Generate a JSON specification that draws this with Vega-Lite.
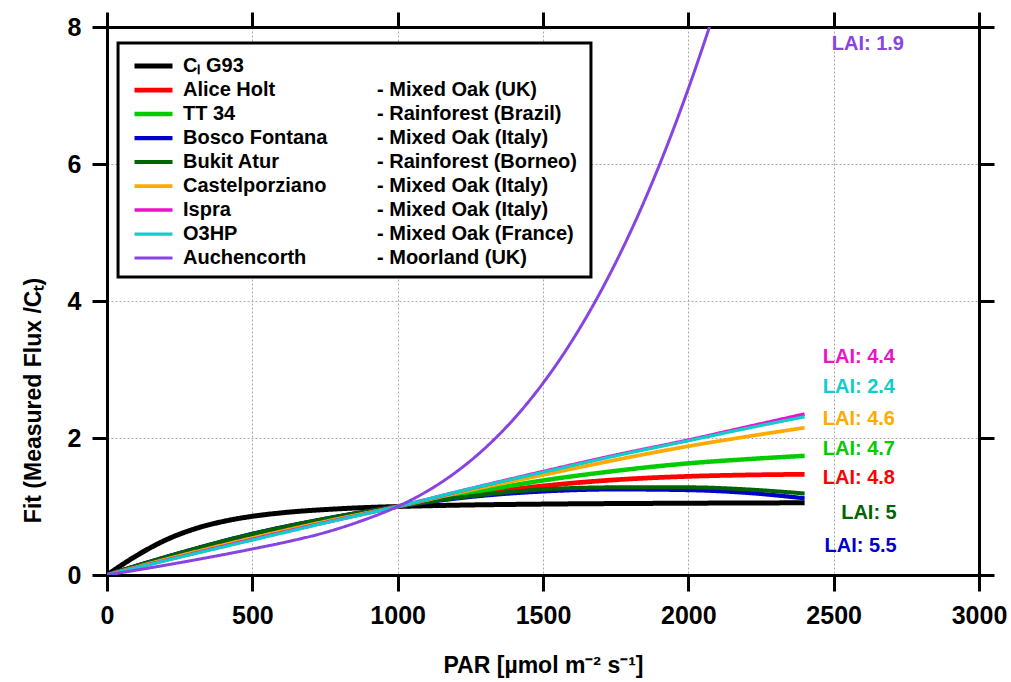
{
  "$schema": "https://vega.github.io/schema/vega-lite/v6.json",
  "width": 872,
  "height": 548,
  "autosize": {"type": "none"},
  "padding": {"left": 107, "top": 27, "right": 32, "bottom": 107},
  "background": "white",
  "config": {"view": {"stroke": null}, "font": "Liberation Sans"},
  "datasets": {
    "sites": [
      {"name": "Cₗ G93", "desc": "0|"},
      {"name": "Alice Holt", "desc": "1|- Mixed Oak (UK)"},
      {"name": "TT 34", "desc": "2|- Rainforest (Brazil)"},
      {"name": "Bosco Fontana", "desc": "3|- Mixed Oak (Italy)"},
      {"name": "Bukit Atur", "desc": "4|- Rainforest (Borneo)"},
      {"name": "Castelporziano", "desc": "5|- Mixed Oak (Italy)"},
      {"name": "Ispra", "desc": "6|- Mixed Oak (Italy)"},
      {"name": "O3HP", "desc": "7|- Mixed Oak (France)"},
      {"name": "Auchencorth", "desc": "8|- Moorland (UK)"}
    ],
    "curves": [
      {"name": "Cₗ G93", "par": 0, "fit": 0},
      {"name": "Cₗ G93", "par": 100, "fit": 0.278},
      {"name": "Cₗ G93", "par": 200, "fit": 0.507},
      {"name": "Cₗ G93", "par": 300, "fit": 0.671},
      {"name": "Cₗ G93", "par": 400, "fit": 0.782},
      {"name": "Cₗ G93", "par": 500, "fit": 0.857},
      {"name": "Cₗ G93", "par": 600, "fit": 0.907},
      {"name": "Cₗ G93", "par": 800, "fit": 0.967},
      {"name": "Cₗ G93", "par": 1000, "fit": 1.0},
      {"name": "Cₗ G93", "par": 1200, "fit": 1.019},
      {"name": "Cₗ G93", "par": 1500, "fit": 1.035},
      {"name": "Cₗ G93", "par": 2000, "fit": 1.048},
      {"name": "Cₗ G93", "par": 2400, "fit": 1.054},

      {"name": "Alice Holt", "par": 0, "fit": 0},
      {"name": "Alice Holt", "par": 250, "fit": 0.31},
      {"name": "Alice Holt", "par": 500, "fit": 0.59},
      {"name": "Alice Holt", "par": 750, "fit": 0.81},
      {"name": "Alice Holt", "par": 1000, "fit": 1.0},
      {"name": "Alice Holt", "par": 1250, "fit": 1.17},
      {"name": "Alice Holt", "par": 1500, "fit": 1.30},
      {"name": "Alice Holt", "par": 1750, "fit": 1.39},
      {"name": "Alice Holt", "par": 2000, "fit": 1.44},
      {"name": "Alice Holt", "par": 2200, "fit": 1.46},
      {"name": "Alice Holt", "par": 2400, "fit": 1.47},

      {"name": "TT 34", "par": 0, "fit": 0},
      {"name": "TT 34", "par": 250, "fit": 0.30},
      {"name": "TT 34", "par": 500, "fit": 0.58},
      {"name": "TT 34", "par": 750, "fit": 0.80},
      {"name": "TT 34", "par": 1000, "fit": 1.0},
      {"name": "TT 34", "par": 1250, "fit": 1.20},
      {"name": "TT 34", "par": 1500, "fit": 1.38},
      {"name": "TT 34", "par": 1750, "fit": 1.52},
      {"name": "TT 34", "par": 2000, "fit": 1.63},
      {"name": "TT 34", "par": 2200, "fit": 1.69},
      {"name": "TT 34", "par": 2400, "fit": 1.74},

      {"name": "Bosco Fontana", "par": 0, "fit": 0},
      {"name": "Bosco Fontana", "par": 250, "fit": 0.32},
      {"name": "Bosco Fontana", "par": 500, "fit": 0.60},
      {"name": "Bosco Fontana", "par": 750, "fit": 0.82},
      {"name": "Bosco Fontana", "par": 1000, "fit": 1.0},
      {"name": "Bosco Fontana", "par": 1250, "fit": 1.14},
      {"name": "Bosco Fontana", "par": 1500, "fit": 1.22},
      {"name": "Bosco Fontana", "par": 1750, "fit": 1.25},
      {"name": "Bosco Fontana", "par": 2000, "fit": 1.24},
      {"name": "Bosco Fontana", "par": 2200, "fit": 1.20},
      {"name": "Bosco Fontana", "par": 2400, "fit": 1.12},

      {"name": "Bukit Atur", "par": 0, "fit": 0},
      {"name": "Bukit Atur", "par": 250, "fit": 0.32},
      {"name": "Bukit Atur", "par": 500, "fit": 0.60},
      {"name": "Bukit Atur", "par": 750, "fit": 0.82},
      {"name": "Bukit Atur", "par": 1000, "fit": 1.0},
      {"name": "Bukit Atur", "par": 1250, "fit": 1.15},
      {"name": "Bukit Atur", "par": 1500, "fit": 1.25},
      {"name": "Bukit Atur", "par": 1750, "fit": 1.28},
      {"name": "Bukit Atur", "par": 2000, "fit": 1.28},
      {"name": "Bukit Atur", "par": 2200, "fit": 1.25},
      {"name": "Bukit Atur", "par": 2400, "fit": 1.19},

      {"name": "Castelporziano", "par": 0, "fit": 0},
      {"name": "Castelporziano", "par": 250, "fit": 0.28},
      {"name": "Castelporziano", "par": 500, "fit": 0.54},
      {"name": "Castelporziano", "par": 750, "fit": 0.78},
      {"name": "Castelporziano", "par": 1000, "fit": 1.0},
      {"name": "Castelporziano", "par": 1250, "fit": 1.24},
      {"name": "Castelporziano", "par": 1500, "fit": 1.46},
      {"name": "Castelporziano", "par": 1750, "fit": 1.68},
      {"name": "Castelporziano", "par": 2000, "fit": 1.88},
      {"name": "Castelporziano", "par": 2200, "fit": 2.02},
      {"name": "Castelporziano", "par": 2400, "fit": 2.15},

      {"name": "Ispra", "par": 0, "fit": 0},
      {"name": "Ispra", "par": 250, "fit": 0.265},
      {"name": "Ispra", "par": 500, "fit": 0.52},
      {"name": "Ispra", "par": 750, "fit": 0.765},
      {"name": "Ispra", "par": 1000, "fit": 1.0},
      {"name": "Ispra", "par": 1250, "fit": 1.26},
      {"name": "Ispra", "par": 1500, "fit": 1.51},
      {"name": "Ispra", "par": 1750, "fit": 1.75},
      {"name": "Ispra", "par": 2000, "fit": 1.97},
      {"name": "Ispra", "par": 2200, "fit": 2.16},
      {"name": "Ispra", "par": 2400, "fit": 2.35},

      {"name": "O3HP", "par": 0, "fit": 0},
      {"name": "O3HP", "par": 250, "fit": 0.26},
      {"name": "O3HP", "par": 500, "fit": 0.51},
      {"name": "O3HP", "par": 750, "fit": 0.76},
      {"name": "O3HP", "par": 1000, "fit": 1.0},
      {"name": "O3HP", "par": 1250, "fit": 1.26},
      {"name": "O3HP", "par": 1500, "fit": 1.50},
      {"name": "O3HP", "par": 1750, "fit": 1.74},
      {"name": "O3HP", "par": 2000, "fit": 1.96},
      {"name": "O3HP", "par": 2200, "fit": 2.14},
      {"name": "O3HP", "par": 2400, "fit": 2.31},

      {"name": "Auchencorth", "par": 0, "fit": 0},
      {"name": "Auchencorth", "par": 250, "fit": 0.18},
      {"name": "Auchencorth", "par": 500, "fit": 0.38},
      {"name": "Auchencorth", "par": 625, "fit": 0.49},
      {"name": "Auchencorth", "par": 750, "fit": 0.62},
      {"name": "Auchencorth", "par": 875, "fit": 0.79},
      {"name": "Auchencorth", "par": 1000, "fit": 1.0},
      {"name": "Auchencorth", "par": 1100, "fit": 1.22},
      {"name": "Auchencorth", "par": 1200, "fit": 1.5},
      {"name": "Auchencorth", "par": 1300, "fit": 1.85},
      {"name": "Auchencorth", "par": 1400, "fit": 2.28},
      {"name": "Auchencorth", "par": 1500, "fit": 2.8},
      {"name": "Auchencorth", "par": 1600, "fit": 3.42},
      {"name": "Auchencorth", "par": 1700, "fit": 4.15},
      {"name": "Auchencorth", "par": 1800, "fit": 5.0},
      {"name": "Auchencorth", "par": 1900, "fit": 5.98},
      {"name": "Auchencorth", "par": 2000, "fit": 7.1},
      {"name": "Auchencorth", "par": 2100, "fit": 8.35}
    ],
    "labels": [
      {"name": "Ispra", "label": "LAI: 4.4", "par": 2711, "fit": 3.18},
      {"name": "O3HP", "label": "LAI: 2.4", "par": 2711, "fit": 2.74},
      {"name": "Castelporziano", "label": "LAI: 4.6", "par": 2711, "fit": 2.28},
      {"name": "TT 34", "label": "LAI: 4.7", "par": 2711, "fit": 1.84},
      {"name": "Alice Holt", "label": "LAI: 4.8", "par": 2711, "fit": 1.41},
      {"name": "Bukit Atur", "label": "LAI: 5", "par": 2717, "fit": 0.90},
      {"name": "Bosco Fontana", "label": "LAI: 5.5", "par": 2717, "fit": 0.42},
      {"name": "Auchencorth", "label": "LAI: 1.9", "par": 2742, "fit": 7.75}
    ]
  },
  "resolve": {"axis": {"x": "independent", "y": "independent"}},
  "layer": [
    {
      "data": {"values": [{}]},
      "mark": {"type": "rect", "fill": "white", "stroke": "black", "strokeWidth": 3},
      "encoding": {
        "x": {"datum": 38, "type": "quantitative",
          "axis": {"orient": "top", "values": [0, 500, 1000, 1500, 2000, 2500, 3000], "labels": false, "title": null, "grid": false,
            "domainColor": "black", "domainWidth": 3, "tickColor": "black", "tickWidth": 3, "tickSize": 15}},
        "x2": {"datum": 1665},
        "y": {"datum": 7.766, "type": "quantitative",
          "axis": {"orient": "right", "values": [0, 2, 4, 6, 8], "labels": false, "title": null, "grid": false,
            "domainColor": "black", "domainWidth": 3, "tickColor": "black", "tickWidth": 3, "tickSize": 15}},
        "y2": {"datum": 4.35}
      }
    },
    {
      "data": {"name": "curves"},
      "transform": [
        {"lookup": "name", "from": {"data": {"name": "sites"}, "key": "name", "fields": ["desc"]}}
      ],
      "mark": {"type": "line", "interpolate": "monotone", "clip": true},
      "encoding": {
        "x": {"field": "par", "type": "quantitative",
          "scale": {"domain": [0, 3000], "nice": false, "zero": false},
          "axis": {"orient": "bottom", "values": [0, 500, 1000, 1500, 2000, 2500, 3000], "format": "d",
            "title": "PAR [µmol m⁻² s⁻¹]",
            "grid": true, "gridDash": [2, 2], "gridColor": "#a8a8a8", "gridWidth": 1,
            "domainColor": "black", "domainWidth": 3, "tickColor": "black", "tickWidth": 3, "tickSize": 16,
            "labelFont": "Liberation Sans", "labelFontWeight": "bold", "labelFontSize": 25, "labelColor": "black",
            "labelPadding": 12, "labelFlush": false, "labelOverlap": false,
            "titleFont": "Liberation Sans", "titleFontWeight": "bold", "titleFontSize": 23, "titleColor": "black",
            "titleY": 97, "titleBaseline": "alphabetic"}},
        "y": {"field": "fit", "type": "quantitative",
          "scale": {"domain": [0, 8], "nice": false},
          "axis": {"orient": "left", "values": [0, 2, 4, 6, 8],
            "title": "Fit (Measured Flux /Cₜ)",
            "grid": true, "gridDash": [2, 2], "gridColor": "#a8a8a8", "gridWidth": 1,
            "domainColor": "black", "domainWidth": 3, "tickColor": "black", "tickWidth": 3, "tickSize": 15,
            "labelFont": "Liberation Sans", "labelFontWeight": "bold", "labelFontSize": 25, "labelColor": "black",
            "labelPadding": 11, "labelFlush": false, "labelOverlap": false,
            "titleFont": "Liberation Sans", "titleFontWeight": "bold", "titleFontSize": 23, "titleColor": "black",
            "titleX": -67, "titleY": 373, "titleAngle": -90, "titleAlign": "center", "titleBaseline": "alphabetic"}},
        "color": {"field": "name", "type": "nominal",
          "scale": {"domain": ["Cₗ G93", "Alice Holt", "TT 34", "Bosco Fontana", "Bukit Atur", "Castelporziano", "Ispra", "O3HP", "Auchencorth"],
            "range": ["#000000", "#ff0000", "#00cc00", "#0000cc", "#006400", "#ffaa00", "#ee11cc", "#11cccc", "#8844e0"]},
          "legend": {"orient": "none", "legendX": 25, "legendY": 29, "title": null, "padding": 0,
            "symbolType": "stroke", "symbolSize": 1444, "symbolStrokeWidth": 3, "clipHeight": 20, "rowPadding": 4,
            "labelFont": "Liberation Sans", "labelFontWeight": "bold", "labelFontSize": 20, "labelColor": "black",
            "labelOffset": 8, "labelLimit": 300}},
        "strokeWidth": {"field": "name", "type": "nominal",
          "scale": {"domain": ["Cₗ G93", "Alice Holt", "TT 34", "Bosco Fontana", "Bukit Atur", "Castelporziano", "Ispra", "O3HP", "Auchencorth"],
            "range": [5, 3, 3, 3, 3, 3, 3, 3, 3]}},
        "strokeDash": {"field": "desc", "type": "nominal",
          "scale": {"domain": ["0|", "1|- Mixed Oak (UK)", "2|- Rainforest (Brazil)", "3|- Mixed Oak (Italy)", "4|- Rainforest (Borneo)", "5|- Mixed Oak (Italy)", "6|- Mixed Oak (Italy)", "7|- Mixed Oak (France)", "8|- Moorland (UK)"],
            "range": [[1, 0], [1, 0], [1, 0], [1, 0], [1, 0], [1, 0], [1, 0], [1, 0], [1, 0]]},
          "legend": {"orient": "none", "legendX": 250, "legendY": 29, "title": null, "padding": 0,
            "symbolSize": 1, "symbolOpacity": 0, "symbolStrokeWidth": 0, "clipHeight": 20, "rowPadding": 4,
            "labelExpr": "split(datum.label, '|')[1]",
            "labelFont": "Liberation Sans", "labelFontWeight": "bold", "labelFontSize": 20, "labelColor": "black",
            "labelOffset": 0, "labelLimit": 300}}
      }
    },
    {
      "data": {"name": "labels"},
      "mark": {"type": "text", "align": "right", "baseline": "middle", "font": "Liberation Sans", "fontWeight": "bold", "fontSize": 20},
      "encoding": {
        "x": {"field": "par", "type": "quantitative", "axis": null},
        "y": {"field": "fit", "type": "quantitative", "axis": null},
        "text": {"field": "label"},
        "color": {"field": "name", "type": "nominal"}
      }
    }
  ]
}
